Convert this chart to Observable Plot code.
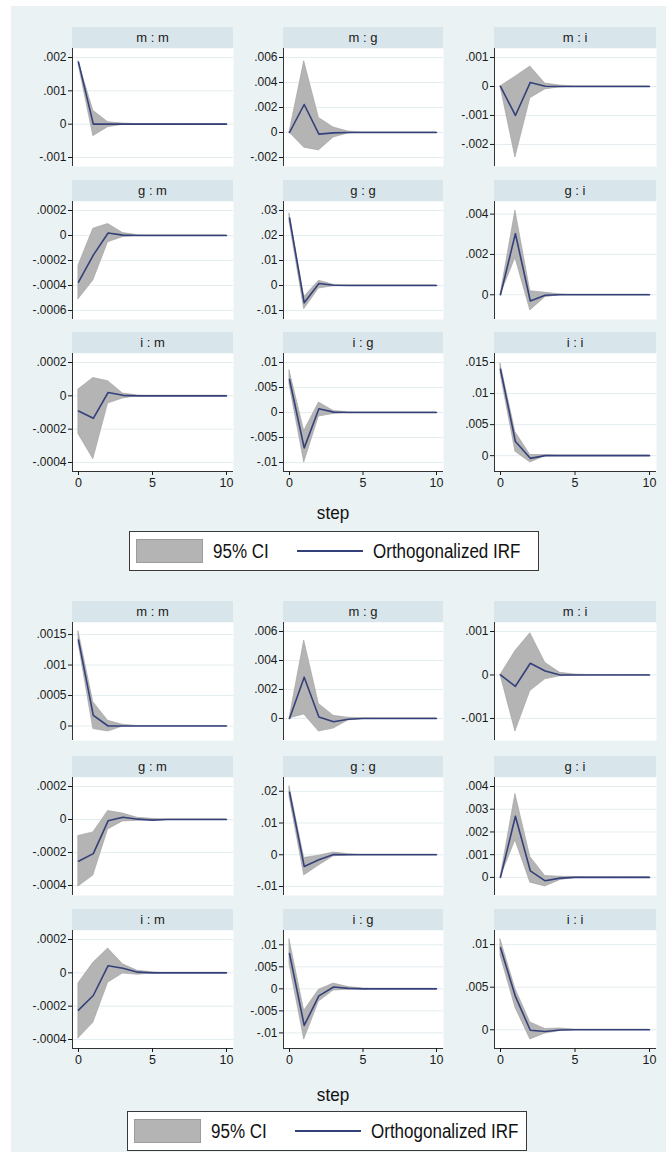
<!DOCTYPE html>
<html><head><meta charset="utf-8">
<script src="https://cdn.jsdelivr.net/npm/d3@7"></script>
<script src="https://cdn.jsdelivr.net/npm/@observablehq/plot@0.6"></script>
<style>
body{margin:0;background:#fff;}
#page{position:relative;width:666px;height:1152px;overflow:hidden;font-family:"Liberation Sans",Arial,sans-serif;}
.bg{position:absolute;left:11px;top:6px;right:0;bottom:0;background:#eaf2f3;}
.hdr{position:absolute;background:#d8e5eb;color:#1a1a1a;font-size:13px;text-align:center;}
.panel{position:absolute;}
.step{position:absolute;font-size:19px;line-height:1;color:#111;transform:translateX(-50%) scaleX(0.9);}
.legend{position:absolute;background:#fff;border:1.5px solid #3a3a3a;box-sizing:border-box;}
.sw{position:absolute;background:#b4b4b4;border:1px solid #9c9c9c;box-sizing:border-box;}
.ln{position:absolute;height:2px;background:#34407a;}
.lt{position:absolute;font-size:20px;line-height:1;color:#111;white-space:nowrap;transform-origin:0 50%;transform:scaleX(0.85);}
</style></head>
<body><div id="page"><div class="bg"></div></div>
<script>
const steps = [0,1,2,3,4,5,6,7,8,9,10];
const panelTitles = ["m : m","m : g","m : i","g : m","g : g","g : i","i : m","i : g","i : i"];
const xTicks = [0,5,10];

// ---- top graph ----
const topIrf = [
  [.00186,0,0,0,0,0,0,0,0,0,0],
  [0,.00224,-.00013,-.00003,0,0,0,0,0,0,0],
  [0,-.001,.00014,.00001,0,0,0,0,0,0,0],
  [-.000373,-.000157,.00002,.000003,0,0,0,0,0,0,0],
  [.027,-.0069,.0008,.0001,0,0,0,0,0,0,0],
  [0,.00303,-.00031,-.00002,0,0,0,0,0,0,0],
  [-.0000915,-.000135,.00002,.000003,0,0,0,0,0,0,0],
  [.0066,-.00707,.00074,.00007,0,0,0,0,0,0,0],
  [.0139,.00228,-.00043,.00001,0,0,0,0,0,0,0]
];
const topLo = [
  [.0018,-.00036,-.00009,-.00002,0,0,0,0,0,0,0],
  [0,-.00121,-.00143,-.0004,-.00008,0,0,0,0,0,0],
  [0,-.00245,-.00041,-.0001,-.00003,0,0,0,0,0,0],
  [-.00051,-.00036,-.000054,-.000013,-.000003,0,0,0,0,0,0],
  [.0255,-.0095,-.0012,-.0003,-.00005,0,0,0,0,0,0],
  [0,.00182,-.00078,-.00012,-.00002,0,0,0,0,0,0],
  [-.00023,-.00038,-.000046,-.000016,-.000002,0,0,0,0,0,0],
  [.0056,-.01,-.0008,-.0003,-.00005,0,0,0,0,0,0],
  [.0132,.00065,-.0011,-.0001,-.00002,0,0,0,0,0,0]
];
const topHi = [
  [.00188,.0004,.00006,.00002,0,0,0,0,0,0,0],
  [0,.0057,.00117,.0004,.00008,0,0,0,0,0,0],
  [0,.00034,.00069,.0001,.00003,0,0,0,0,0,0],
  [-.00024,.000054,.000092,.00002,.000003,0,0,0,0,0,0],
  [.0287,-.0046,.0019,.0003,.00005,0,0,0,0,0,0],
  [0,.00418,.00018,.0001,.00002,0,0,0,0,0,0],
  [.000038,.000107,.000088,.000014,.000002,0,0,0,0,0,0],
  [.0084,-.0037,.002,.0003,.00005,0,0,0,0,0,0],
  [.0148,.0038,.0001,.0001,.00002,0,0,0,0,0,0]
];
const topTicks = [
  [-.001,0,.001,.002],
  [-.002,0,.002,.004,.006],
  [-.002,-.001,0,.001],
  [-.0006,-.0004,-.0002,0,.0002],
  [-.01,0,.01,.02,.03],
  [0,.002,.004],
  [-.0004,-.0002,0,.0002],
  [-.01,-.005,0,.005,.01],
  [0,.005,.01,.015]
];

// ---- bottom graph ----
const botIrf = [
  [.00141,.000175,0,0,0,0,0,0,0,0,0],
  [0,.00285,.0001,-.00023,-.00005,0,0,0,0,0,0],
  [0,-.00026,.00027,.00009,0,0,0,0,0,0,0],
  [-.000253,-.000207,-.000008,.000014,.000002,-.000004,0,0,0,0,0],
  [.0197,-.00367,-.0016,.0001,0,0,0,0,0,0,0],
  [0,.00269,.00029,-.00015,-.00003,0,0,0,0,0,0],
  [-.000224,-.000136,.000043,.000028,.000004,0,0,0,0,0,0],
  [.008,-.0083,-.0016,.00043,.0001,0,0,0,0,0,0],
  [.00962,.00392,-.00005,-.0002,-.00003,0,0,0,0,0,0]
];
const botLo = [
  [.00136,-.00005,-.00009,-.00001,0,0,0,0,0,0,0],
  [0,.00028,-.0009,-.0007,-.00014,-.00002,0,0,0,0,0],
  [0,-.0013,-.00037,-.0001,-.00003,-.00001,0,0,0,0,0],
  [-.000406,-.00034,-.00006,-.000012,-.000008,-.000004,0,0,0,0,0],
  [.0182,-.0065,-.0034,-.0005,-.0002,0,0,0,0,0,0],
  [0,.00163,-.00023,-.0004,-.00012,-.00002,0,0,0,0,0],
  [-.000393,-.0003,-.000059,-.000004,-.000012,-.000003,0,0,0,0,0],
  [.0056,-.0115,-.0029,-.0004,-.0002,-.0001,0,0,0,0,0],
  [.0087,.0026,-.00114,-.00045,-.00015,-.00002,0,0,0,0,0]
];
const botHi = [
  [.00155,.00039,.000085,.00002,0,0,0,0,0,0,0],
  [0,.00538,.001,.00018,.00005,.00002,0,0,0,0,0],
  [0,.00055,.00096,.00028,.00005,.00001,0,0,0,0,0],
  [-.0001,-.000078,.000052,.000036,.00001,.000004,0,0,0,0,0],
  [.0215,-.001,-.0003,.0007,.0002,0,0,0,0,0,0],
  [0,.00367,.0009,.00006,.00003,.00002,0,0,0,0,0],
  [-.000063,.00006,.000146,.000051,.000012,.000003,0,0,0,0,0],
  [.0112,-.005,-.0002,.0012,.0004,.0001,0,0,0,0,0],
  [.0106,.0048,.00087,.0001,.00015,.00002,0,0,0,0,0]
];
const botTicks = [
  [0,.0005,.001,.0015],
  [0,.002,.004,.006],
  [-.001,0,.001],
  [-.0004,-.0002,0,.0002],
  [-.01,0,.01,.02],
  [0,.001,.002,.003,.004],
  [-.0004,-.0002,0,.0002],
  [-.01,-.005,0,.005,.01],
  [0,.005,.01]
];

const legendLabels = ["95% CI","Orthogonalized IRF"];
const xTitle = "step";

// layout
const colLeft = [72,283,494];
const colW = [161,160,162];
const graphs = [
  {irf: topIrf, lo: topLo, hi: topHi, ticks: topTicks, rowTop: [27,180,332], hdrH: 21, plotH: 118,
   stepY: 503, legend: {x:129, y:531, w:410, h:40}},
  {irf: botIrf, lo: botLo, hi: botHi, ticks: botTicks, rowTop: [601,756,909], hdrH: 21, plotH: 118,
   stepY: 1085, legend: {x:127, y:1111, w:400, h:40}}
];

function fmt(v){
  if (Math.abs(v) < 1e-12) return "0";
  return String(+v.toPrecision(4)).replace(/^(-?)0\./, "$1.");
}

const page = document.getElementById("page");
const LM = 50;

graphs.forEach(G => {
  for (let p = 0; p < 9; p++) {
    const r = Math.floor(p/3), c = p % 3;
    const data = steps.map((s,i) => ({step: s, irf: G.irf[p][i], lo: G.lo[p][i], hi: G.hi[p][i]}));
    const ticks = G.ticks[p];
    const hdr = document.createElement("div");
    hdr.className = "hdr";
    hdr.style.left = colLeft[c] + "px";
    hdr.style.top = G.rowTop[r] + "px";
    hdr.style.width = colW[c] + "px";
    hdr.style.height = G.hdrH + "px";
    hdr.style.lineHeight = G.hdrH + "px";
    hdr.textContent = panelTitles[p];
    page.appendChild(hdr);

    const vals = ticks.concat(G.lo[p], G.hi[p], G.irf[p]);
    const a = d3.min(vals), b = d3.max(vals);
    const pad = 9, H = G.plotH;
    const k = (b - a) / (H - 2*pad);
    const yDom = [a - pad*k, b + pad*k];
    const W = colW[c];
    const kx = 10 / (W - 13);
    const xDom = [-6*kx, 10 + 7*kx];
    const bottomRow = r === 2;
    const marks = [
      Plot.frame({fill: "white", stroke: null}),
      Plot.ruleY(ticks, {stroke: "#e4edf0", strokeWidth: 1}),
      Plot.areaY(data, {x: "step", y1: "lo", y2: "hi", fill: "#b4b4b4", stroke: "#9e9e9e", strokeWidth: 0.6}),
      Plot.lineY(data, {x: "step", y: "irf", stroke: "#34407a", strokeWidth: 1.6}),
      Plot.ruleX([xDom[0]], {stroke: "#333", strokeWidth: 1}),
      Plot.axisY(ticks, {anchor: "left", label: null, tickSize: 4, tickPadding: 2, tickFormat: fmt, fontSize: 12})
    ];
    if (bottomRow) {
      marks.push(Plot.ruleY([yDom[0]], {stroke: "#333", strokeWidth: 1}));
      marks.push(Plot.axisX(xTicks, {anchor: "bottom", label: null, tickSize: 4, tickPadding: 3, fontSize: 12.5}));
    }
    const svg = Plot.plot({
      width: LM + W,
      height: H + (bottomRow ? 30 : 0),
      marginLeft: LM, marginRight: 0, marginTop: 0, marginBottom: bottomRow ? 30 : 0,
      x: {domain: xDom, axis: null, label: null},
      y: {domain: yDom, axis: null, label: null},
      style: {background: "transparent", overflow: "visible", color: "#1a1a1a", fontFamily: "Liberation Sans, Arial, sans-serif"},
      marks
    });
    const wrap = document.createElement("div");
    wrap.className = "panel";
    wrap.style.left = (colLeft[c] - LM) + "px";
    wrap.style.top = (G.rowTop[r] + G.hdrH) + "px";
    wrap.appendChild(svg);
    page.appendChild(wrap);
  }
  const st = document.createElement("div");
  st.className = "step";
  st.style.left = "333px";
  st.style.top = G.stepY + "px";
  st.textContent = xTitle;
  page.appendChild(st);
  const L = G.legend;
  const lg = document.createElement("div");
  lg.className = "legend";
  lg.style.left = L.x + "px"; lg.style.top = L.y + "px";
  lg.style.width = L.w + "px"; lg.style.height = L.h + "px";
  lg.innerHTML =
    `<div class="sw" style="left:6px;top:7px;width:67px;height:24px"></div>
     <div class="lt" style="left:83px;top:9px">${legendLabels[0]}</div>
     <div class="ln" style="left:167px;top:18px;width:66px"></div>
     <div class="lt" style="left:243px;top:9px">${legendLabels[1]}</div>`;
  page.appendChild(lg);
});
</script>
</body></html>
